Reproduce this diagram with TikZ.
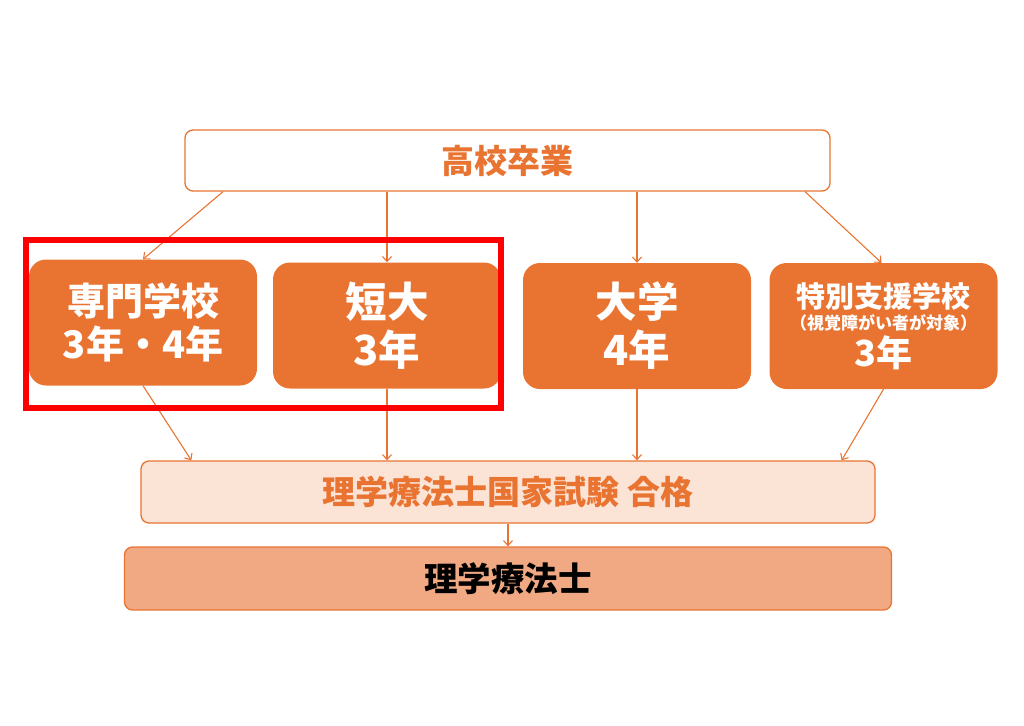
\documentclass[tikz,border=0pt]{standalone}
\usepackage{fontspec}
\setmainfont{Noto Sans CJK JP}
\usepackage{tikz}
\usetikzlibrary{shapes,arrows.meta,positioning}
\usetikzlibrary{calc}
\definecolor{pt-orange}{HTML}{E97432}
\definecolor{pt-peach}{HTML}{FBE3D6}
\definecolor{pt-salmon}{HTML}{F1A983}
\definecolor{pt-red}{HTML}{FF0000}

\tikzset{
  topbox/.style={draw=pt-orange, line width=1.3pt, fill=white, rounded corners=8pt, minimum width=645pt, minimum height=61pt, inner sep=0pt, text=pt-orange, font=\bfseries\fontsize{33}{38}\selectfont},
  schoolbox/.style={fill=pt-orange, rounded corners=17pt, minimum width=228pt, minimum height=126pt, inner sep=0pt, align=center, text=white},
  exambox/.style={draw=pt-orange, line width=1.3pt, fill=pt-peach, rounded corners=8pt, minimum width=734pt, minimum height=62pt, inner sep=0pt, text=pt-orange, font=\bfseries\fontsize{33}{38}\selectfont},
  resultbox/.style={draw=pt-orange, line width=1.3pt, fill=pt-salmon, rounded corners=8pt, minimum width=767pt, minimum height=63pt, inner sep=0pt, text=black, font=\bfseries\fontsize{33.5}{38}\selectfont},
  flow/.style={draw=pt-orange, line width=1.1pt, -{Straight Barb[length=5pt,width=9pt]}}
}

\begin{document}
\begin{tikzpicture}[x=1pt,y=-1pt]
\useasboundingbox (0,0) rectangle (1024,725);
\node[topbox] (top) at (507.5,160.5) {高校卒業};
\node[schoolbox, font=\bfseries\fontsize{38}{43}\selectfont] (senmon) at (143,322.5) {専門学校\\3年・4年};
\node[schoolbox, font=\bfseries\fontsize{41.5}{48}\selectfont] (tandai) at (387,325.5) {短大\\3年};
\node[schoolbox, font=\bfseries\fontsize{41.5}{48}\selectfont] (daigaku) at (637,326) {大学\\4年};
\node[schoolbox, font=\bfseries] (tokubetsu) at (883.5,326) {\fontsize{29}{29}\selectfont 特別支援学校\\[4pt]{\fontsize{17}{17}\selectfont （視覚障がい者が対象）}\\[3pt]{\fontsize{36}{36}\selectfont 3年}};
\node[exambox] (exam) at (508,492) {理学療法士国家試験 合格};
\node[resultbox] (result) at (508,578.5) {理学療法士};
% from high school
\draw[flow] ([xshift=-284.5pt]top.south) -- (senmon.north);
\draw[flow] (tandai.north |- top.south) -- (tandai.north);
\draw[flow] (daigaku.north |- top.south) -- (daigaku.north);
\draw[flow] ([xshift=297.5pt]top.south) -- ([xshift=-2pt]tokubetsu.north);
% to the exam
\draw[flow] (senmon.south) -- ([xshift=51pt]exam.north west);
\draw[flow] (tandai.south) -- (tandai.south |- exam.north);
\draw[flow] (daigaku.south) -- (daigaku.south |- exam.north);
\draw[flow] (tokubetsu.south) -- ([xshift=-34pt]exam.north east);
\draw[flow] (exam.south) -- (result.north);
% highlight
\draw[pt-red, line width=6pt] (26,240) rectangle (501,408);
\end{tikzpicture}
\end{document}
